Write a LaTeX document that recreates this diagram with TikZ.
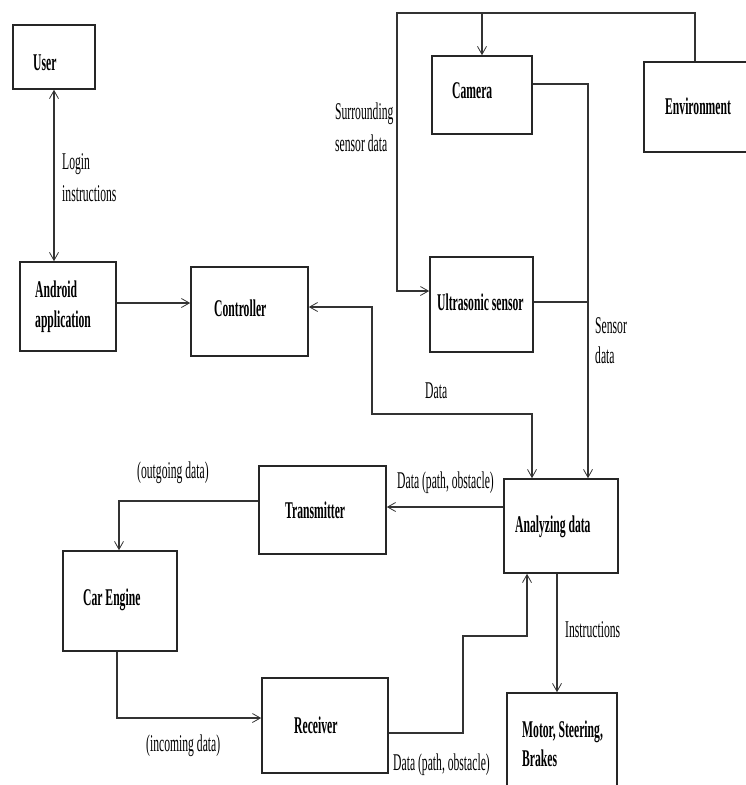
\documentclass[tikz,border=0pt]{standalone}
\usepackage{fontspec}
\setmainfont[FakeStretch=0.485]{Liberation Serif}
\usetikzlibrary{arrows.meta,calc}
\begin{document}
\begin{tikzpicture}[x=1pt,y=-1pt,
 box/.style={draw=black!85, line width=1.6pt, rectangle, inner sep=0pt},
 conn/.style={draw=black!80, line width=1.1pt},
 arr/.style={conn, -{Straight Barb[length=8pt,width=9pt,line width=0.8pt]}},
 darr/.style={conn, {Straight Barb[length=8pt,width=9pt,line width=0.8pt]}-{Straight Barb[length=8pt,width=9pt,line width=0.8pt]}},
 lbl/.style={anchor=base west, inner sep=0pt, font=\fontsize{24}{31}\selectfont},
 blbl/.style={anchor=base west, inner sep=0pt, font=\fontsize{24}{31}\selectfont\bfseries}]
\useasboundingbox (0,0) rectangle (746,785);
\fill[white] (0,0) rectangle (746,785);
\clip (0,0) rectangle (746,785);

% boxes
\node[box, minimum width=82pt, minimum height=64pt] (user) at (54,57) {};
\node[box, minimum width=96pt, minimum height=89pt] (android) at (68,306.5) {};
\node[box, minimum width=117pt, minimum height=89pt] (controller) at (249.5,311.5) {};
\node[box, minimum width=100pt, minimum height=78pt] (camera) at (482,95) {};
\node[box, minimum width=116pt, minimum height=90pt] (environment) at (702,107) {};
\node[box, minimum width=103pt, minimum height=95pt] (ultrasonic) at (481.5,304.5) {};
\node[box, minimum width=114pt, minimum height=94pt] (analyzing) at (561,526) {};
\node[box, minimum width=127pt, minimum height=88pt] (transmitter) at (322.5,510) {};
\node[box, minimum width=114pt, minimum height=100pt] (carengine) at (120,601) {};
\node[box, minimum width=126pt, minimum height=95pt] (receiver) at (325,725.5) {};
\node[box, minimum width=110pt, minimum height=107pt] (motor) at (562,746.5) {};

% box texts
\node[blbl] (tuser) at (33,70) {User};
\node[blbl] (tand1) at (35,297) {Android};
\node[blbl] (tand2) at (35,327) {application};
\node[blbl] (tcon) at (214,316) {Controller};
\node[blbl] (tcam) at (452,98) {Camera};
\node[blbl] (tenv) at (665,114) {Environment};
\node[blbl] (tult) at (437,310) {Ultrasonic sensor};
\node[blbl] (tana) at (515,532) {Analyzing data};
\node[blbl] (ttra) at (285,518) {Transmitter};
\node[blbl] (tcar) at (83,605) {Car Engine};
\node[blbl] (trec) at (294,733) {Receiver};
\node[blbl] (tmot1) at (522,737) {Motor, Steering,};
\node[blbl] (tmot2) at (522,766) {Brakes};

% connector labels
\node[lbl] (llog1) at (62,169) {Login};
\node[lbl] (llog2) at (62,201) {instructions};
\node[lbl] (lsur1) at (335,119) {Surrounding};
\node[lbl] (lsur2) at (335,151) {sensor data};
\node[lbl] (lsen1) at (595,333) {Sensor};
\node[lbl] (lsen2) at (595,363) {data};
\node[lbl] (ldata) at (425,398) {Data};
\node[lbl] (ldpo1) at (397,488) {Data (path, obstacle)};
\node[lbl] (lout) at (137,478) {(outgoing data)};
\node[lbl] (linc) at (146,751) {(incoming data)};
\node[lbl] (ldpo2) at (393,770) {Data (path, obstacle)};
\node[lbl] (lins) at (565,637) {Instructions};

% connectors
\coordinate (split) at (482,13);
\draw[darr] (user.south) -- (user.south |- android.north);
\draw[arr] (android.east |- 0,303) -- (controller.west |- 0,303);
\draw[darr] (analyzing.north -| 532,0) |- (372,414) |- (controller.east |- 0,307);
\draw[arr] (environment.north -| 695,0) |- (split) -- (camera.north -| split);
\draw[arr] (split) -| (397,291) -- (ultrasonic.west |- 0,291);
\draw[arr] (camera.east |- 0,84) -| (analyzing.north -| 588,0);
\draw[conn] (ultrasonic.east |- 0,302) -- (588,302);
\draw[arr] (analyzing.west |- 0,507) -- (transmitter.east |- 0,507);
\draw[arr] (transmitter.west |- 0,501) -| (carengine.north -| 119,0);
\draw[arr] (carengine.south -| 117,0) |- (receiver.west |- 0,718);
\draw[arr] (receiver.east |- 0,733) -| (463,636) -| (analyzing.south -| 527,0);
\draw[arr] (analyzing.south -| 557,0) -- (motor.north -| 557,0);
\end{tikzpicture}
\end{document}
